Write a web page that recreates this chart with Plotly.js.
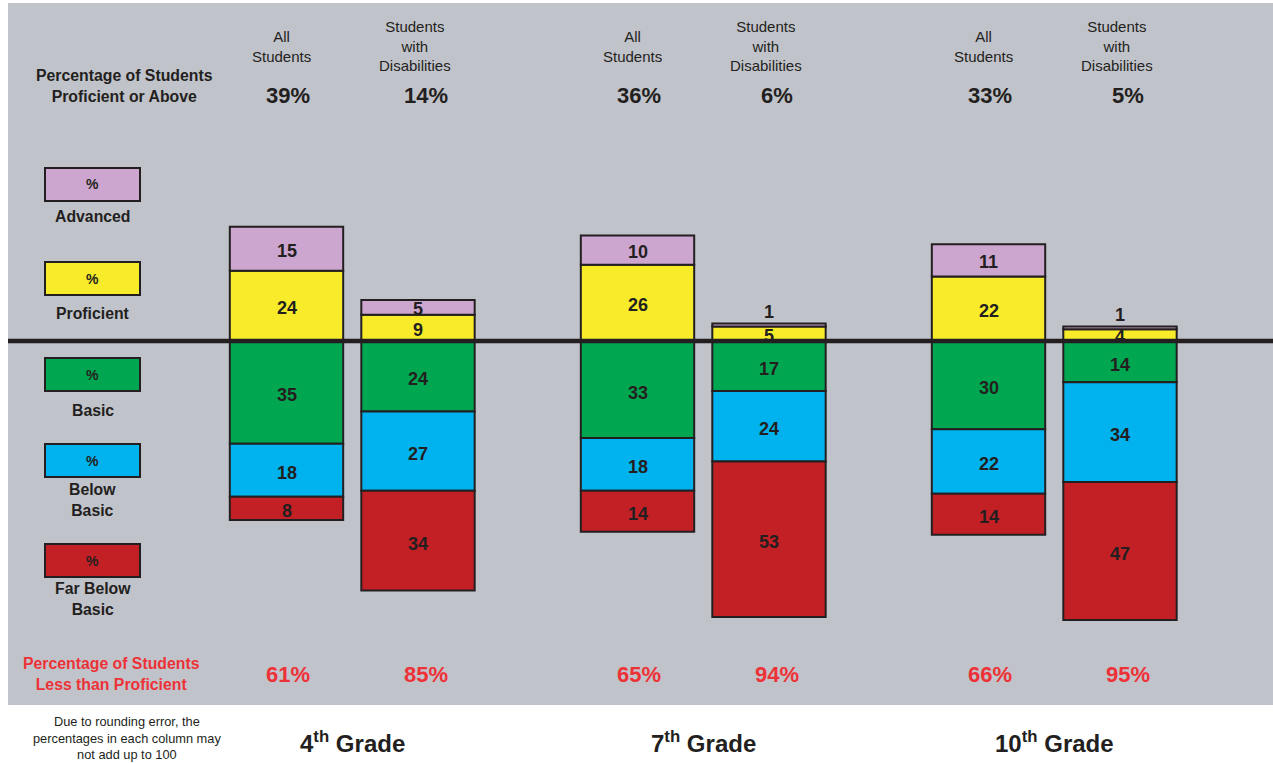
<!DOCTYPE html>
<html>
<head>
<meta charset="utf-8">
<script src="https://cdn.plot.ly/plotly-3.0.1.min.js"></script>
<style>html,body{margin:0;padding:0;background:#fff;}#chart{width:1273px;height:763px;}</style>
</head>
<body>
<div id="chart"></div>
<script>
// ---- data ----
const grades = ["4", "7", "10"];
const groups = ["All<br>Students", "Students<br>with<br>Disabilities"];
const levels = ["Advanced", "Proficient", "Basic", "Below<br>Basic", "Far Below<br>Basic"];
// columns: 4th All, 4th SWD, 7th All, 7th SWD, 10th All, 10th SWD
const advanced      = [15, 5, 10, 1, 11, 1];
const proficient    = [24, 9, 26, 5, 22, 4];
const basic         = [35, 24, 33, 17, 30, 14];
const belowBasic    = [18, 27, 18, 24, 22, 34];
const farBelowBasic = [8, 34, 14, 53, 14, 47];
const proficientOrAbove  = [39, 14, 36, 6, 33, 5];
const lessThanProficient = [61, 85, 65, 94, 66, 95];

// ---- styling / layout helpers ----
const colors = {
  "Advanced": "#cda6cf",
  "Proficient": "#f8eb29",
  "Basic": "#00a650",
  "Below<br>Basic": "#00b2ee",
  "Far Below<br>Basic": "#c32026"
};
const ink = "#231f20";
const red = "#ed3237";
const FONT = "Liberation Sans, Arial, Helvetica, sans-serif";
const W = 1273, H = 763, L = 8, R = 0, T = 3, B = 58;
const px = x => (x - L) / (W - L - R);
const py = y => (H - B - y) / (H - T - B);

const offset = 0.1873, barW = 0.323;
const labelShift = [-5, -3], pctShift = [1, 8];
const xs = [], xsGroup = [];
grades.forEach((g, gi) => groups.forEach((grp, k) => { xs.push(gi + (k === 0 ? -offset : offset)); xsGroup.push(k); }));

function barTrace(name, vals, sign) {
  return {
    type: "bar", name: name, x: xs, y: vals.map(v => sign * v), width: xs.map(() => barW),
    marker: {color: colors[name], line: {color: ink, width: 2}},
    hoverinfo: "skip", showlegend: false, textposition: "none"
  };
}
const data = [
  barTrace("Proficient", proficient, 1),
  barTrace("Advanced", advanced, 1),
  barTrace("Basic", basic, -1),
  barTrace("Below<br>Basic", belowBasic, -1),
  barTrace("Far Below<br>Basic", farBelowBasic, -1)
];

const ann = [];
function A(o) { ann.push(Object.assign({showarrow: false, xanchor: "center", yanchor: "middle"}, o)); }
const lblFont = {family: FONT, size: 18, color: ink, weight: "bold"};
xs.forEach((x, i) => {
  const p = proficient[i], a = advanced[i], b = basic[i], bb = belowBasic[i], f = farBelowBasic[i];
  const k = xsGroup[i];
  A({x: x, y: p / 2, yshift: -2, text: String(p), font: lblFont});
  if (a <= 2) A({x: x, y: p + a, yanchor: "bottom", yshift: -1, text: String(a), font: lblFont});
  else A({x: x, y: p + a / 2, yshift: -2, text: String(a), font: lblFont});
  A({x: x, y: -b / 2, yshift: -3, text: String(b), font: lblFont});
  A({x: x, y: -(b + bb / 2), yshift: -3, text: String(bb), font: lblFont});
  A({x: x, y: -(b + bb + f / 2), yshift: -3, text: String(f), font: lblFont});
  // headers
  A({x: x, xshift: labelShift[k], yref: "paper", y: py(46), text: groups[k],
    font: {family: FONT, size: 15, color: ink}});
  A({x: x, xshift: pctShift[k], yref: "paper", y: py(96), text: proficientOrAbove[i] + "%",
    font: {family: FONT, size: 22, color: ink, weight: "bold"}});
  A({x: x, xshift: pctShift[k], yref: "paper", y: py(674), text: lessThanProficient[i] + "%",
    font: {family: FONT, size: 22, color: red, weight: "bold"}});
});
grades.forEach((g, gi) => {
  A({x: gi, yref: "paper", y: py(742), text: g + "<sup>th</sup> Grade",
    font: {family: FONT, size: 24, color: ink, weight: "bold"}});
});
A({xref: "paper", x: px(124.5), yref: "paper", y: py(86), text: "Percentage of Students<br>Proficient or Above",
  font: {family: FONT, size: 15.8, color: ink, weight: "bold"}});
A({xref: "paper", x: px(111.5), yref: "paper", y: py(674), text: "Percentage of Students<br>Less than Proficient",
  font: {family: FONT, size: 15.8, color: red, weight: "bold"}});
A({xref: "paper", x: px(127), yref: "paper", y: py(738.5), text: "Due to rounding error, the<br>percentages in each column may<br>not add up to 100",
  font: {family: FONT, size: 12.8, color: ink}});

// legend built from levels
const shapes = [];
const boxTops = [168, 262, 358, 444, 544];
const labelYs = [216, 313, 411, 500, 599];
levels.forEach((lv, i) => {
  const y0 = boxTops[i], y1 = y0 + 33;
  shapes.push({type: "rect", xref: "paper", yref: "paper", x0: px(45), x1: px(140), y0: py(y1), y1: py(y0),
    fillcolor: colors[lv], line: {color: ink, width: 2}, layer: "above"});
  A({xref: "paper", yref: "paper", x: px(92.5), y: py((y0 + y1) / 2), text: "%",
    font: {family: FONT, size: 14, color: ink, weight: "bold"}});
  A({xref: "paper", yref: "paper", x: px(92.5), y: py(labelYs[i]), text: lv,
    font: {family: FONT, size: 15.8, color: ink, weight: "bold"}});
});
shapes.push({type: "line", xref: "paper", x0: 0, x1: 1, yref: "y", y0: 0, y1: 0,
  line: {color: ink, width: 4.5}, layer: "above"});

const layout = {
  width: W, height: H,
  margin: {l: L, r: R, t: T, b: B, pad: 0},
  paper_bgcolor: "#ffffff", plot_bgcolor: "#c1c3ca",
  barmode: "relative",
  xaxis: {range: [(L - 352.25) / 351, (W - R - 352.25) / 351], showgrid: false, zeroline: false,
    showticklabels: false, ticks: "", fixedrange: true},
  yaxis: {range: [-124.0, 115.2], showgrid: false, zeroline: false, showticklabels: false, ticks: "", fixedrange: true},
  showlegend: false,
  annotations: ann, shapes: shapes,
  font: {family: FONT}
};
Plotly.newPlot("chart", data, layout, {displayModeBar: false, staticPlot: true});
</script>
</body>
</html>
